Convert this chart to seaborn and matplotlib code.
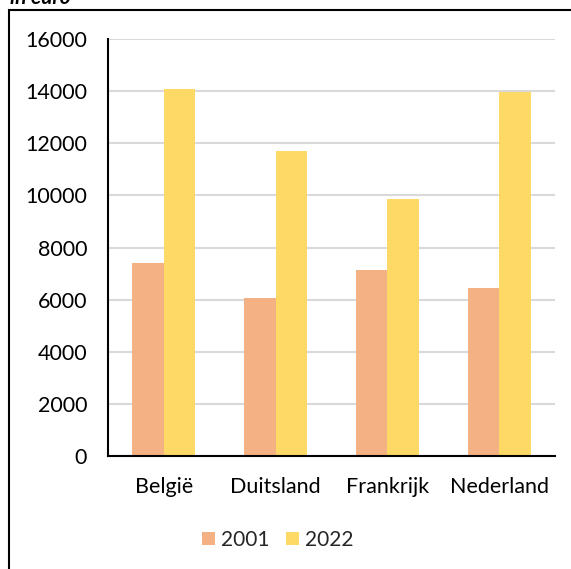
import matplotlib
matplotlib.use("Agg")
import matplotlib.pyplot as plt
import seaborn as sns
import pandas as pd
from matplotlib.patches import Rectangle

countries = ["België", "Duitsland", "Frankrijk", "Nederland"]
years = ["2001", "2022"]
values_2001 = [7400, 6060, 7150, 6450]
values_2022 = [14100, 11700, 9850, 13950]
yticks = [0, 2000, 4000, 6000, 8000, 10000, 12000, 14000, 16000]

df = pd.DataFrame({
    "land": countries * 2,
    "jaar": [years[0]] * 4 + [years[1]] * 4,
    "waarde": values_2001 + values_2022,
})

sns.set_theme(style="white")
plt.rcParams["font.family"] = ["Lato", "DejaVu Sans"]

fig = plt.figure(figsize=(5.71, 5.69), dpi=100)
ax = fig.add_axes([108/571, 1 - 456/569, (555-108)/571, (456-39)/569])

sns.barplot(data=df, x="land", y="waarde", hue="jaar",
            palette=["#F4B183", "#FFD966"], width=0.565, ax=ax,
            edgecolor="none", linewidth=0, saturation=1, legend=True)

ax.set_ylim(0, 16000)
ax.set_xlim(-0.5, 3.5)
ax.set_yticks(yticks)
ax.set_yticklabels([str(v) for v in yticks], fontsize=15.5, color="#000000")
ax.tick_params(axis="x", labelsize=15.5, colors="#000000", pad=15, length=0)
ax.tick_params(axis="y", pad=15, length=0)
ax.set_xlabel("")
ax.set_ylabel("")
ax.yaxis.grid(True, color="#d9d9d9", linewidth=1.5)
ax.set_axisbelow(True)
for s in ["top", "right"]:
    ax.spines[s].set_visible(False)
for s in ["left", "bottom"]:
    ax.spines[s].set_color("#000000")
    ax.spines[s].set_linewidth(1.5)

leg = ax.legend(loc="center", bbox_to_anchor=(278/571, 1 - 540/569),
                bbox_transform=fig.transFigure, ncol=2, frameon=False,
                fontsize=15, handlelength=0.6, handleheight=0.6,
                handletextpad=0.3, columnspacing=0.8)

fig.patches.append(Rectangle((9/571, -0.1), 1.2, 1.1 - 10/569 + 0.0,
                             transform=fig.transFigure, fill=False,
                             edgecolor="#000000", linewidth=1.5))

fig.text(10/571, 1 - 4/569, "in euro", fontsize=15, fontweight="bold",
         fontstyle="italic", ha="left", va="baseline", color="#000000")

fig.savefig("out.png", dpi=100, facecolor="white")
